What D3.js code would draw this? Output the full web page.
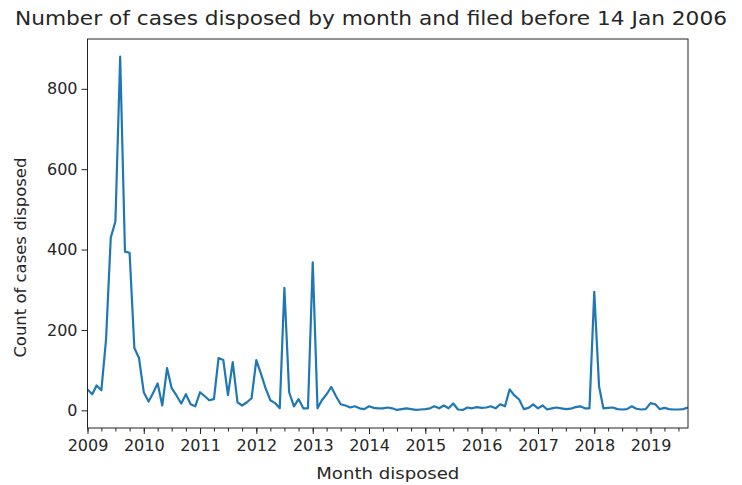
<!DOCTYPE html>
<html>
<head>
<meta charset="utf-8">
<script src="https://cdn.jsdelivr.net/npm/d3@7"></script>
<style>
  body { margin: 0; background: #fff; }
  text { font-family: "DejaVu Sans", sans-serif; fill: #262626; }
</style>
</head>
<body>
<svg id="chart" width="742" height="485"></svg>
<script>
// monthly counts, Jan 2009 .. Sep 2019
const counts2009 = [52, 40, 62, 50, 175, 430, 470, 880, 395, 392, 155, 130]
const counts2010 = [45, 22, 42, 67, 12, 105, 55, 37, 17, 40, 15, 10]
const counts2011 = [45, 35, 25, 28, 130, 125, 38, 120, 20, 12, 20, 30]
const counts2012 = [125, 90, 55, 25, 18, 5, 305, 45, 10, 28, 5, 5]
const counts2013 = [368, 5, 25, 40, 58, 35, 15, 12, 7, 10, 5, 3]
const counts2014 = [10, 6, 5, 5, 7, 5, 1, 3, 5, 3, 1, 2]
const counts2015 = [3, 5, 10, 5, 12, 5, 17, 2, 1, 7, 5, 8]
const counts2016 = [6, 7, 10, 5, 15, 10, 52, 37, 27, 3, 6, 15]
const counts2017 = [5, 12, 2, 5, 7, 5, 3, 4, 8, 10, 5, 5]
const counts2018 = [295, 60, 5, 6, 7, 3, 2, 3, 10, 4, 2, 3]
const counts2019 = [18, 15, 3, 6, 3, 2, 2, 3, 7]

const yTickValues = [0, 200, 400, 600, 800]
const yearLabels = ["2009", "2010", "2011", "2012", "2013", "2014", "2015", "2016", "2017", "2018", "2019"]

const titleText = "Number of cases disposed by month and filed before 14 Jan 2006"
const xLabel = "Month disposed"
const yLabel = "Count of cases disposed"

// joining the yearly arrays into one monthly series
const counts = [].concat(counts2009, counts2010, counts2011, counts2012, counts2013,
    counts2014, counts2015, counts2016, counts2017, counts2018, counts2019)
const months = d3.timeMonth.range(new Date(2009, 0, 1), new Date(2019, 9, 1))
const data = months.map((m, i) => ({ month: m, value: counts[i] }))

const svg = d3.select("#chart"),
    width = +svg.attr("width"),
    height = +svg.attr("height");

const margin = { top: 39, right: 54, bottom: 57, left: 87.5 },
    w = width - margin.left - margin.right,
    h = height - margin.top - margin.bottom;

const g = svg.append("g")
    .attr("transform", `translate(${margin.left},${margin.top})`)

// x scale: the line fills the axis from first to last month
const x = d3.scaleTime()
    .domain(d3.extent(months))
    .range([0, w])

// y scale with matplotlib-like 5% padding
const yMax = d3.max(counts), yMin = 0
const pad = (yMax - yMin) * 0.05
const y = d3.scaleLinear()
    .domain([yMin - pad, yMax + pad])
    .range([h, 0])

// minor ticks every quarter
const minorTicks = d3.timeMonth.every(3).range(months[0], months[months.length - 1])
g.append("g")
    .attr("transform", `translate(0,${h})`)
    .call(d3.axisBottom(x).tickValues(minorTicks).tickSize(3.5).tickFormat(""))
    .call(a => a.select(".domain").remove())
    .selectAll("line").attr("stroke", "#222")

// major year ticks
const yearDates = yearLabels.map(yr => new Date(+yr, 0, 1))
const xAxis = g.append("g")
    .attr("transform", `translate(0,${h})`)
    .call(d3.axisBottom(x).tickValues(yearDates).tickSize(6).tickPadding(6)
        .tickFormat((d, i) => yearLabels[i]))
xAxis.select(".domain").remove()
xAxis.selectAll("line").attr("stroke", "#222")
xAxis.selectAll("text").style("font-size", "16px").attr("fill", "#262626")

const yAxis = g.append("g")
    .call(d3.axisLeft(y).tickValues(yTickValues).tickSize(6).tickPadding(4))
yAxis.select(".domain").remove()
yAxis.selectAll("line").attr("stroke", "#222")
yAxis.selectAll("text").style("font-size", "16px").attr("fill", "#262626")

// the series line
g.append("path")
    .datum(data)
    .attr("fill", "none")
    .attr("stroke", "#1f77b4")
    .attr("stroke-width", 2.2)
    .attr("stroke-linejoin", "round")
    .attr("d", d3.line().x(d => x(d.month)).y(d => y(d.value)))

// box around the plot
g.append("rect")
    .attr("width", w)
    .attr("height", h)
    .attr("fill", "none")
    .attr("stroke", "#222")
    .attr("stroke-width", 1)

// titles
svg.append("text")
    .attr("x", 371)
    .attr("y", 25)
    .attr("text-anchor", "middle")
    .attr("textLength", 712)
    .attr("lengthAdjust", "spacingAndGlyphs")
    .style("font-size", "19px")
    .text(titleText)

svg.append("text")
    .attr("x", margin.left + w / 2)
    .attr("y", 479)
    .attr("text-anchor", "middle")
    .attr("textLength", 143)
    .attr("lengthAdjust", "spacingAndGlyphs")
    .style("font-size", "16px")
    .text(xLabel)

svg.append("text")
    .attr("transform", `translate(26,${margin.top + y(380)}) rotate(-90)`)
    .attr("text-anchor", "middle")
    .attr("textLength", 200)
    .attr("lengthAdjust", "spacingAndGlyphs")
    .style("font-size", "16px")
    .text(yLabel)
</script>
</body>
</html>
